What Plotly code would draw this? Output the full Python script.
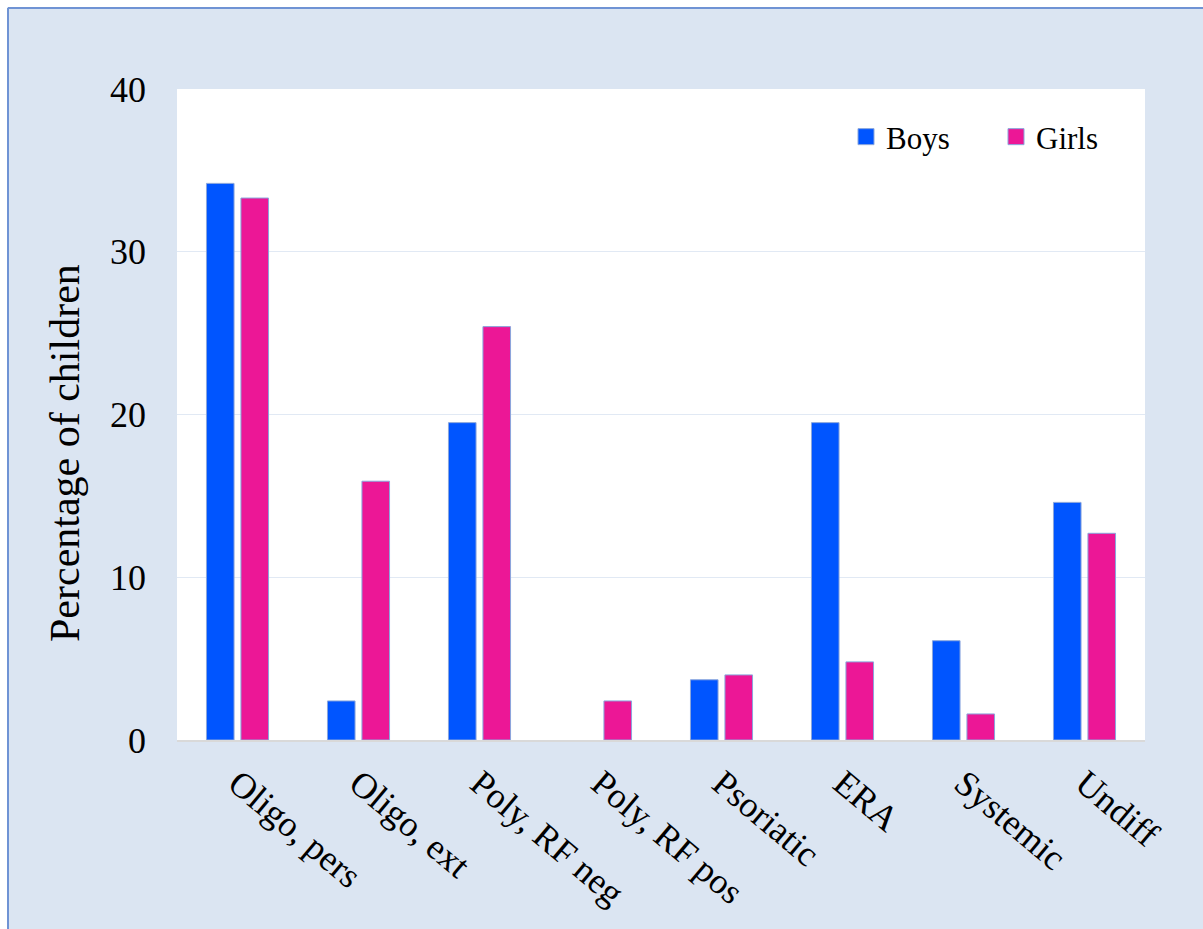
import plotly.graph_objects as go

categories = ["Oligo, pers", "Oligo, ext", "Poly, RF neg", "Poly, RF pos",
              "Psoriatic", "ERA", "Systemic", "Undiff"]
boys = [34.2, 2.4, 19.5, 0.0, 3.7, 19.5, 6.1, 14.6]
girls = [33.3, 15.9, 25.4, 2.4, 4.0, 4.8, 1.6, 12.7]
y_ticks = [0, 10, 20, 30, 40]
y_title = "Percentage of children"

BLUE = "#0055ff"
PINK = "#ec1796"
OUTLINE = "#8aa6dc"
BG = "#dbe5f2"
FONT = "Liberation Serif"

W, H = 1203, 929
ML, MR, MT, MB = 177, 58, 89, 189
PW, PH = W - ML - MR, H - MT - MB

def outline_widths(vals):
    return [1 if v > 0 else 0 for v in vals]

fig = go.Figure()
fig.add_trace(go.Bar(x=categories, y=boys, name="Boys", marker_color=BLUE,
                     marker_line=dict(color=OUTLINE, width=outline_widths(boys)),
                     showlegend=False))
fig.add_trace(go.Bar(x=categories, y=girls, name="Girls", marker_color=PINK,
                     marker_line=dict(color=OUTLINE, width=outline_widths(girls)),
                     showlegend=False))
# legend entries
for nm, col in [("Boys", BLUE), ("Girls", PINK)]:
    fig.add_trace(go.Scatter(x=[None], y=[None], mode="markers", name=nm,
                             marker=dict(symbol="square", size=16, color=col,
                                         line=dict(color=OUTLINE, width=1))))

def px_to_paper_x(px):
    return (px - ML) / PW

def px_to_paper_y(py):
    return 1 - (py - MT) / PH

shapes = [
    dict(type="rect", xref="paper", yref="paper", x0=px_to_paper_x(0), x1=px_to_paper_x(7),
         y0=px_to_paper_y(H), y1=px_to_paper_y(0), fillcolor="white", line_width=0, layer="below"),
    dict(type="rect", xref="paper", yref="paper", x0=px_to_paper_x(0), x1=px_to_paper_x(W),
         y0=px_to_paper_y(7), y1=px_to_paper_y(0), fillcolor="white", line_width=0, layer="below"),
    dict(type="line", xref="paper", yref="paper", x0=px_to_paper_x(8), x1=px_to_paper_x(8),
         y0=px_to_paper_y(H), y1=px_to_paper_y(8), line=dict(color="#6f93d4", width=2), layer="below"),
    dict(type="line", xref="paper", yref="paper", x0=px_to_paper_x(8), x1=px_to_paper_x(W),
         y0=px_to_paper_y(8), y1=px_to_paper_y(8), line=dict(color="#6f93d4", width=2), layer="below"),
]

fig.update_layout(
    width=W, height=H,
    margin=dict(l=ML, r=MR, t=MT, b=MB, autoexpand=False),
    paper_bgcolor=BG, plot_bgcolor="white",
    font=dict(family=FONT, size=36, color="black"),
    barmode="group", bargap=0.43, bargroupgap=0.2,
    shapes=shapes,
    legend=dict(orientation="h", x=px_to_paper_x(846), y=px_to_paper_y(137),
                xanchor="left", yanchor="middle", bgcolor="rgba(0,0,0,0)",
                font=dict(family=FONT, size=31, color="black"),
                entrywidth=105, entrywidthmode="pixels", itemwidth=30),
    annotations=[dict(text=y_title, xref="paper", yref="paper",
                      x=px_to_paper_x(65), y=px_to_paper_y(453),
                      xanchor="center", yanchor="middle", textangle=-90,
                      showarrow=False, font=dict(family=FONT, size=42, color="black"))],
)
fig.update_yaxes(range=[0, 40], tickvals=y_ticks, showgrid=True, gridcolor="#e1e9f4",
                 gridwidth=1, zeroline=False, showline=False, ticks="",
                 ticklabelstandoff=30, tickfont=dict(size=36))
fig.update_xaxes(showline=True, linecolor="#d9d9d9", linewidth=2, ticks="",
                 tickangle=40, tickfont=dict(size=36), ticklabelstandoff=6)

fig.write_html("out.html")
